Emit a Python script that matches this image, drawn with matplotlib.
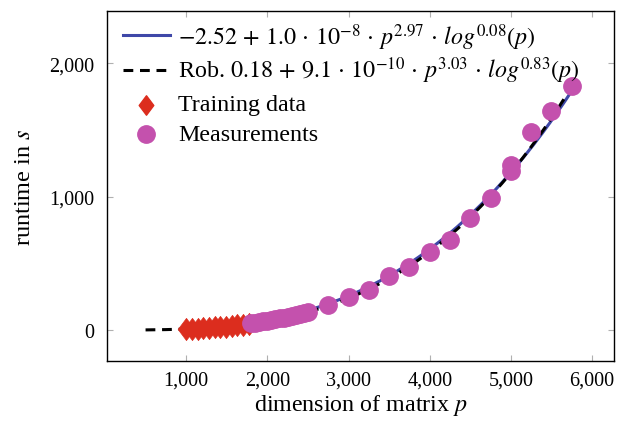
import numpy as np
import matplotlib
matplotlib.use("Agg")
import matplotlib.pyplot as plt
from matplotlib.path import Path
from matplotlib.lines import Line2D

plt.rcParams['font.family'] = ['Liberation Serif', 'DejaVu Serif']
plt.rcParams['mathtext.fontset'] = 'stix'

# Training data
train_p = [1000, 1070, 1140, 1210, 1280, 1350, 1420, 1490, 1560, 1630, 1700, 1770]
train_t = [7, 9, 11, 14, 16, 19, 23, 26, 30, 35, 40, 45]

# Measurements
meas_p = [1800, 1850, 1900, 1950, 2000, 2050, 2100, 2150, 2200, 2250, 2300, 2350,
          2400, 2450, 2500, 2750, 3000, 3250, 3500, 3750, 4000, 4250, 4500, 4750,
          5000, 5000, 5250, 5500, 5750]
meas_t = [50, 54, 59, 64, 70, 75, 81, 87, 93, 100, 107, 114, 122, 130, 138, 187,
          247, 300, 404, 472, 584, 674, 839, 989, 1236, 1191, 1483, 1640, 1828]

# Model coefficients (from legend): c0 + c1 * p^a * log2(p)^b
fit_coef = [-2.52, 1.0e-8, 2.97, 0.08]
rob_coef = [0.18, 9.1e-10, 3.03, 0.83]
fit_range = [1000, 5750]
rob_range = [500, 5750]

xticks = [1000, 2000, 3000, 4000, 5000, 6000]
yticks = [0, 1000, 2000]

legend_labels = [r'$-2.52\,+\,1.0\,\cdot\,10^{-8}\,\cdot\,p^{2.97}\,\cdot\,log^{0.08}(p)$',
                 r'Rob. $0.18\,+\,9.1\,\cdot\,10^{-10}\,\cdot\,p^{3.03}\,\cdot\,log^{0.83}(p)$',
                 'Training data', 'Measurements']


def model(c, p):
    return c[0] + c[1] * p ** c[2] * np.log2(p) ** c[3]


diamond = Path([(0, 1), (0.75, 0), (0, -1), (-0.75, 0), (0, 1)],
               [Path.MOVETO, Path.LINETO, Path.LINETO, Path.LINETO, Path.CLOSEPOLY])

W, H = 618, 431
fig = plt.figure(figsize=(W / 100, H / 100), dpi=100)
ax = fig.add_axes([107 / W, 1 - 362 / H, 507 / W, 350 / H])

pf = np.linspace(fit_range[0], fit_range[1], 300)
pr = np.linspace(rob_range[0], rob_range[1], 300)

BLUE, RED, MAG = '#3f48a8', '#dc2d1e', '#c451ad'
dash = (0, (3.2, 2.2))

ax.plot(pf, model(fit_coef, pf), color=BLUE, lw=2.2, zorder=2)
ax.plot(pr, model(rob_coef, pr), color='black', lw=2.2, ls=dash, zorder=2)
ax.plot(train_p, train_t, ls='none', marker=diamond, ms=16, color=RED,
        mec=RED, mew=0.5, zorder=3)
ax.plot(meas_p, meas_t, ls='none', marker='o', ms=12.5, color=MAG,
        mec=MAG, zorder=4)

ax.set_xlim(25, 6270)
ax.set_ylim(-232, 2390)
ax.set_xticks(xticks)
ax.set_yticks(yticks)
ax.set_xticklabels([f'{v:,}' for v in xticks])
ax.set_yticklabels([f'{v:,}' for v in yticks])
ax.tick_params(direction='in', length=4, color='#b0b0b0', width=0.8,
               top=True, right=True, labelsize=14.5)
ax.tick_params(axis='x', pad=7)
ax.tick_params(axis='y', pad=9)
for s in ax.spines.values():
    s.set_linewidth(1.0)

ax.set_xlabel(r'dimension of matrix $p$', fontsize=17.3, labelpad=2)
ax.set_ylabel(r'runtime in $s$', fontsize=17.5, labelpad=10)

# Legend (drawn manually for exact row placement)
def fx(x):
    return x / W


def fy(y):
    return 1 - y / H


handle_y = [36, 71, 106, 135]
base_y = [45, 78, 111, 141]
hx0, hx1, tx = 123, 170, 178
styles = [dict(color=BLUE, lw=2.2), dict(color='black', lw=2.2, ls=dash)]
for i in range(4):
    if i < 2:
        fig.add_artist(Line2D([fx(hx0), fx(hx1)], [fy(handle_y[i])] * 2,
                              transform=fig.transFigure, **styles[i]))
    elif i == 2:
        fig.add_artist(Line2D([fx(146)], [fy(handle_y[i])], ls='none',
                              marker=diamond, ms=14, color=RED, mec=RED,
                              transform=fig.transFigure))
    else:
        fig.add_artist(Line2D([fx(146)], [fy(handle_y[i])], ls='none',
                              marker='o', ms=12.5, color=MAG, mec=MAG,
                              transform=fig.transFigure))
    fig.text(fx(tx), fy(base_y[i]), legend_labels[i], fontsize=17.3,
             va='baseline', ha='left')

fig.savefig('out.png', dpi=100)
